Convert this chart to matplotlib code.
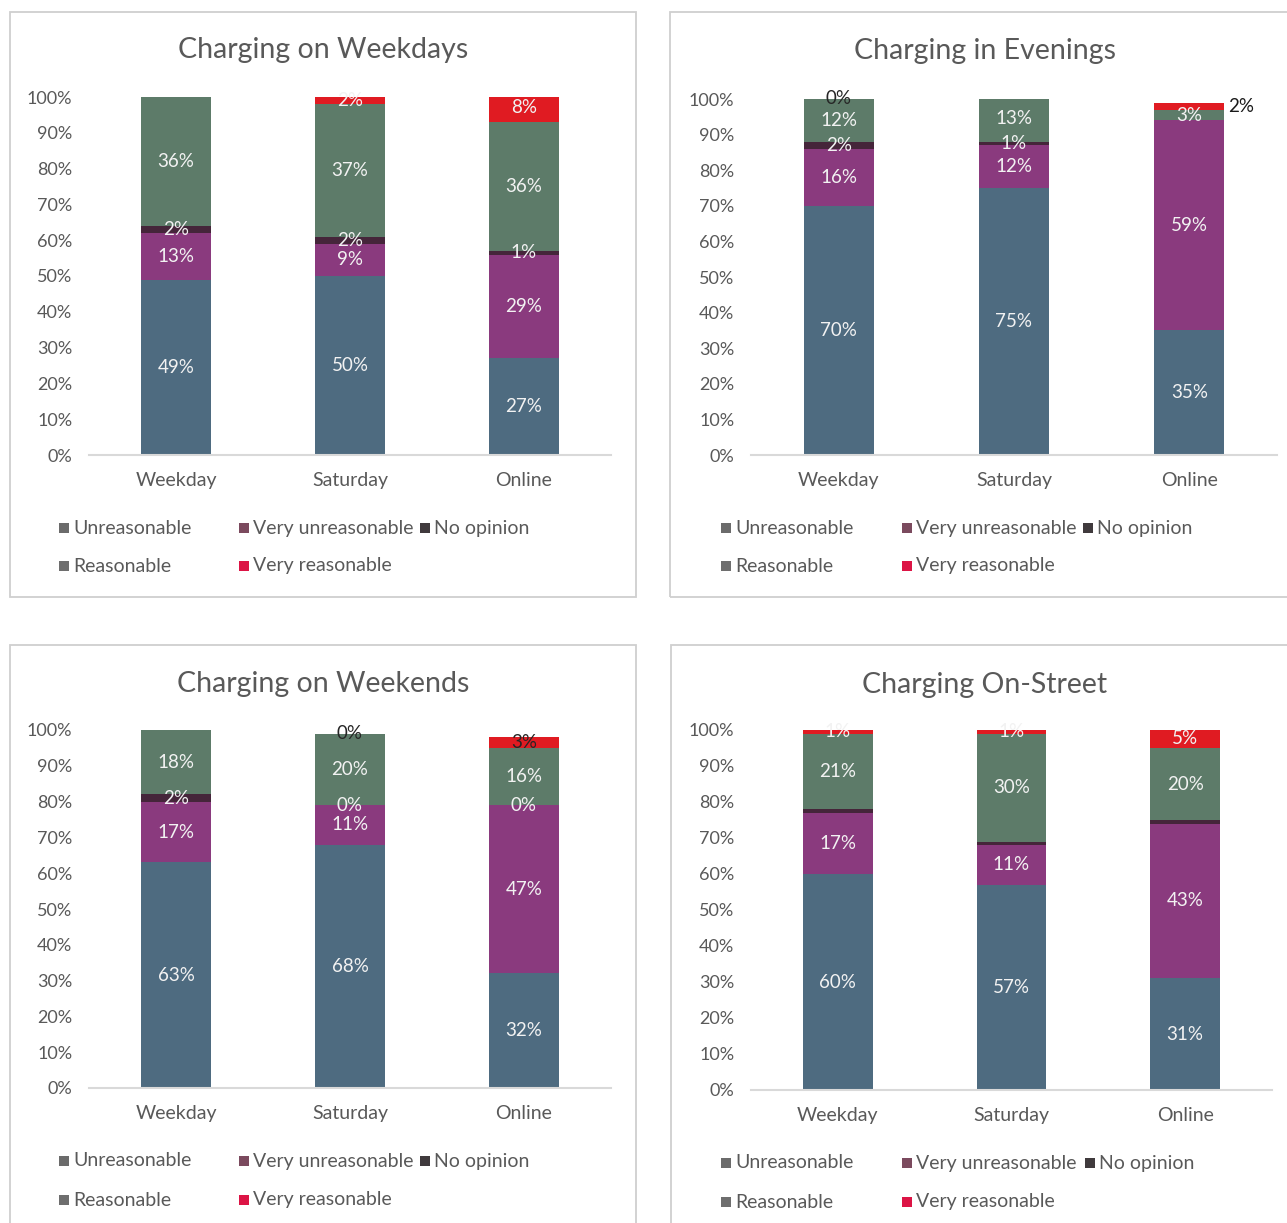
import matplotlib.pyplot as plt
from matplotlib.patches import Rectangle

W, H = 1287, 1223

categories = ['Weekday', 'Saturday', 'Online']
series = ['Unreasonable', 'Very unreasonable', 'No opinion', 'Reasonable', 'Very reasonable']

# percentages, one row per series, stacked bottom to top
weekdays = [
    [49, 50, 27],
    [13, 9, 29],
    [2, 2, 1],
    [36, 37, 36],
    [0, 2, 8],
]
evenings = [
    [70, 75, 35],
    [16, 12, 59],
    [2, 1, 0],
    [12, 13, 3],
    [0, 0, 2],
]
weekends = [
    [63, 68, 32],
    [17, 11, 47],
    [2, 0, 0],
    [18, 20, 16],
    [0, 0, 3],
]
on_street = [
    [60, 57, 31],
    [17, 11, 43],
    [1, 1, 1],
    [21, 30, 20],
    [1, 1, 5],
]

bar_colors = ['#4e6b80', '#8a3a7e', '#45253a', '#5d7b69', '#e01b22']
legend_colors = ['#6b6b6b', '#7b4a5e', '#403a3d', '#6e6e6e', '#dc1445']
text_grey = '#595959'

plt.rcParams['font.family'] = ['Lato', 'DejaVu Sans']

fig = plt.figure(figsize=(W / 100, H / 100), dpi=100)


def fx(px):
    return px / W


def fy(py):
    return 1 - py / H


def draw_panel(title, values, frame, axes_px, title_x, title_y, legend_x, legend_y,
               hidden=(), dark=(), outside=()):
    # frame box around the whole panel
    x0, y0, x1, y1 = frame
    fig.add_artist(Rectangle((fx(x0), fy(y1)), fx(x1 - x0), (y1 - y0) / H,
                             transform=fig.transFigure, fill=False,
                             edgecolor='#cfcfcf', lw=1.3))
    fig.text(fx(title_x), fy(title_y), title, ha='center', va='center',
             fontsize=20.5, color=text_grey)

    left, right, top, bottom = axes_px
    ax = fig.add_axes([fx(left), fy(bottom), fx(right - left), (bottom - top) / H])
    xs = range(len(categories))
    base = [0] * len(categories)
    for i, vals in enumerate(values):
        ax.bar(xs, vals, 0.4, bottom=base, color=bar_colors[i], linewidth=0)
        for j, v in enumerate(vals):
            if (i, j) in hidden:
                continue
            yc = base[j] + v / 2
            if (i, j) in outside:
                ax.annotate(f'{v}%', (j + 0.2, yc), xytext=(3, 0),
                            textcoords='offset points', ha='left', va='center',
                            fontsize=13.5, color='#1a1a1a')
            else:
                col = '#262626' if (i, j) in dark else '#f2f2f2'
                ax.text(j, yc, f'{v}%', ha='center', va='center',
                        fontsize=13.5, color=col)
        base = [b + v for b, v in zip(base, vals)]

    ax.set_xlim(-0.5, len(categories) - 0.5)
    ax.set_ylim(0, 100)
    ax.set_yticks(range(0, 101, 10))
    ax.set_yticklabels([f'{t}%' for t in range(0, 101, 10)])
    ax.set_xticks(list(xs))
    ax.set_xticklabels(categories)
    ax.tick_params(axis='y', length=0, pad=12, labelsize=13, labelcolor=text_grey)
    ax.tick_params(axis='x', length=0, pad=12, labelsize=14, labelcolor=text_grey)
    for side in ['top', 'right', 'left']:
        ax.spines[side].set_visible(False)
    ax.spines['bottom'].set_color('#d9d9d9')
    ax.spines['bottom'].set_linewidth(1.5)
    ax.patch.set_alpha(0)

    # legend laid out in rows of three, like the spreadsheet
    order = [(0, 0, 0), (1, 1, 0), (2, 2, 0), (3, 0, 1), (4, 1, 1)]
    for k, col, row in order:
        mx, my = legend_x[col], legend_y[row]
        fig.add_artist(Rectangle((fx(mx), fy(my + 5)), fx(10), 10 / H,
                                 transform=fig.transFigure,
                                 color=legend_colors[k], lw=0))
        fig.text(fx(mx + 14), fy(my), series[k], ha='left', va='center',
                 fontsize=14, color=text_grey)


draw_panel('Charging on Weekdays', weekdays, (10, 12, 636, 597),
           (89, 611, 97, 455), 323, 50, (59, 239, 420), (528, 566),
           hidden={(4, 0)})
draw_panel('Charging in Evenings', evenings, (670, 12, 1300, 597),
           (751, 1277, 99, 455), 985, 51, (721, 902, 1083), (528, 566),
           hidden={(4, 1), (2, 2)}, dark={(4, 0)}, outside={(4, 2)})
draw_panel('Charging on Weekends', weekends, (10, 645, 636, 1230),
           (89, 611, 730, 1088), 323, 684, (59, 239, 420), (1161, 1200),
           hidden={(4, 0)}, dark={(4, 1), (4, 2)})
draw_panel('Charging On-Street', on_street, (671, 645, 1300, 1230),
           (751, 1272, 730, 1090), 985, 685, (721, 902, 1085), (1163, 1202),
           hidden={(2, 0), (2, 1), (2, 2)})

fig.savefig('out.png', dpi=100)
